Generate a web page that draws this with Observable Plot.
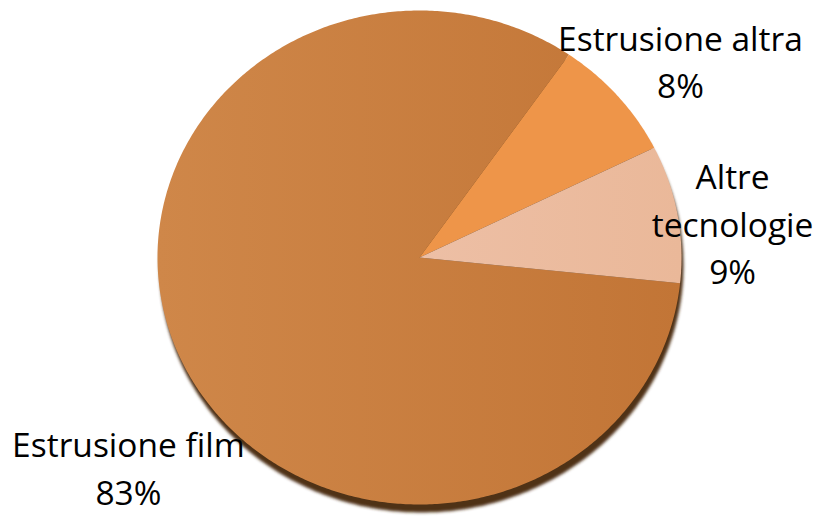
<!DOCTYPE html>
<html>
<head>
<meta charset="utf-8">
<script src="https://cdn.jsdelivr.net/npm/d3@7"></script>
<script src="https://cdn.jsdelivr.net/npm/@observablehq/plot@0.6"></script>
<style>
  html, body { margin: 0; padding: 0; background: #fff; }
  #chart svg { display: block; }
</style>
</head>
<body>
<div id="chart"></div>
<script>
// ---- data ----
const categories = ["Estrusione film", "Estrusione altra", "Altre tecnologie"];
const labelsText = ["Estrusione film\n83%", "Estrusione altra\n8%", "Altre\ntecnologie\n9%"];
const values = [83, 8, 9];
const colors = ["url(#filmGrad)", "#EE9549", "url(#altreGrad)"];

// ---- layout ----
const W = 819, H = 523;
const cx = 419, cy = 257, rx = 262, ry = 247;
const startAngle = (96 / 180) * Math.PI; // film starts just below 3 o'clock, clockwise
// label block centres in unit coords (layout only)
const labelPos = {
  "Estrusione film": [-1.111, 0.844],
  "Estrusione altra": [0.996, -0.802],
  "Altre tecnologie": [1.195, -0.146]
};

const pie = d3.pie().sort(null).value(d => d.value)
  .startAngle(startAngle).endAngle(startAngle + 2 * Math.PI);
const rows = categories.map((c, i) => ({category: c, value: values[i], text: labelsText[i]}));
const arcs = pie(rows);

// polygon vertices of each slice (unit circle; y down)
const pts = [];
for (const a of arcs) {
  const c = a.data.category;
  pts.push({category: c, x: 0, y: 0});
  const n = Math.max(2, Math.ceil((a.endAngle - a.startAngle) / 0.01));
  for (let k = 0; k <= n; k++) {
    const t = a.startAngle + (a.endAngle - a.startAngle) * k / n;
    pts.push({category: c, x: Math.sin(t), y: -Math.cos(t)});
  }
}
// full outline for shadow
const shadow = d3.range(0, 361, 1).map(d => ({x: Math.sin(d * Math.PI / 180), y: -Math.cos(d * Math.PI / 180)}));

const labelRows = rows.map(r => ({...r, lx: labelPos[r.category][0], ly: labelPos[r.category][1]}));

const defs = () => {
  const g = d3.create("svg:defs");
  const f = g.append("linearGradient").attr("id", "filmGrad")
    .attr("gradientUnits", "userSpaceOnUse")
    .attr("x1", cx - rx).attr("y1", cy).attr("x2", cx + rx).attr("y2", cy);
  f.append("stop").attr("offset", "0%").attr("stop-color", "#CF8749");
  f.append("stop").attr("offset", "100%").attr("stop-color", "#C27536");
  const a = g.append("linearGradient").attr("id", "altreGrad")
    .attr("gradientUnits", "userSpaceOnUse")
    .attr("x1", cx).attr("y1", cy).attr("x2", cx + rx).attr("y2", cy);
  a.append("stop").attr("offset", "0%").attr("stop-color", "#EDBFA5");
  a.append("stop").attr("offset", "100%").attr("stop-color", "#EAB899");
  const fl = g.append("filter").attr("id", "blur").attr("x", "-10%").attr("y", "-10%").attr("width", "120%").attr("height", "120%");
  fl.append("feGaussianBlur").attr("stdDeviation", 1.5);
  return g.node();
};

const chart = Plot.plot({
  width: W,
  height: H,
  margin: 0,
  style: {fontFamily: "'Open Sans', 'Noto Sans', sans-serif", background: "#fff"},
  x: {domain: [-1, 1], range: [cx - rx, cx + rx], axis: null},
  y: {domain: [-1, 1], range: [cy - ry, cy + ry], axis: null},
  color: {type: "ordinal", domain: categories, range: colors},
  marks: [
    defs,
    Plot.line(shadow, {x: "x", y: "y", curve: "linear-closed", fill: "#4f3016", stroke: "none", dy: 8, dx: 2,
      render: (i, s, v, d, c, next) => { const g = next(i, s, v, d, c); g.setAttribute("filter", "url(#blur)"); return g; }}),
    Plot.line(pts, {x: "x", y: "y", z: "category", fill: "category", stroke: "none", curve: "linear-closed"}),
    Plot.text(labelRows, {x: "lx", y: "ly", text: "text", fontSize: 33.5, lineHeight: 1.41, fill: "#000", textAnchor: "middle", lineAnchor: "middle"})
  ]
});
document.getElementById("chart").appendChild(chart);
</script>
</body>
</html>
